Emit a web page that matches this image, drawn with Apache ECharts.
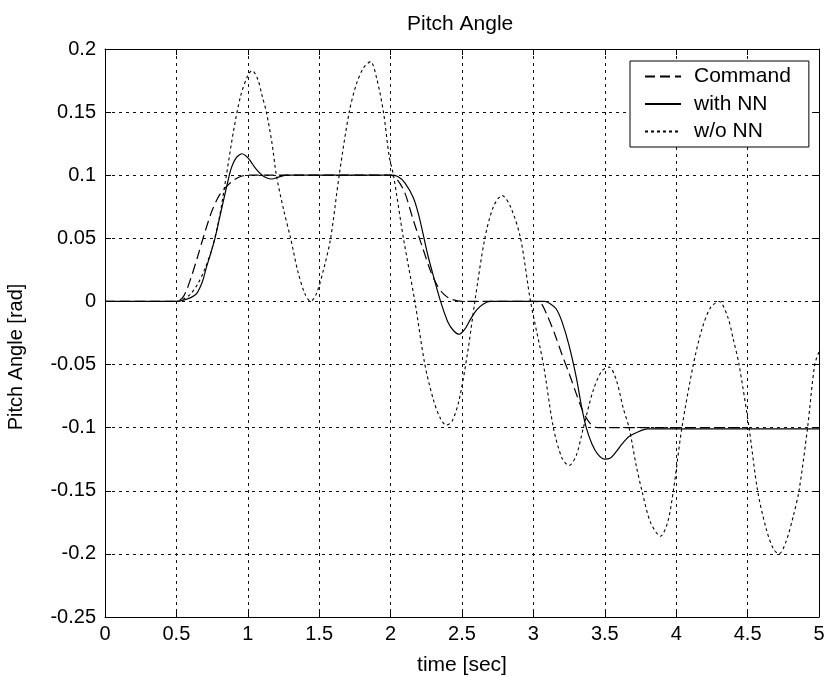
<!DOCTYPE html>
<html>
<head>
<meta charset="utf-8">
<script src="https://cdn.jsdelivr.net/npm/echarts@6/dist/echarts.min.js"></script>
<style>html,body{margin:0;padding:0;background:#fff;}#c{width:830px;height:677px;}</style>
</head>
<body>
<div id="c"></div>
<script>
// ---- data ----
const xTickLabels = ['0','0.5','1','1.5','2','2.5','3','3.5','4','4.5','5'];
const yTickLabels = ['-0.25','-0.2','-0.15','-0.1','-0.05','0','0.05','0.1','0.15','0.2'];

const cmdT = [0,0.5,0.55,0.6,0.65,0.7,0.75,0.8,0.85,0.9,0.95,1.0,2.0,2.05,2.1,2.16,2.22,2.28,2.33,2.37,2.42,2.5,3.0,3.05,3.1,3.15,3.2,3.25,3.3,3.35,3.4,3.45,4.5];
const cmdY = [0,0,0.004,0.018,0.036,0.055,0.072,0.084,0.091,0.096,0.099,0.1,0.1,0.096,0.086,0.064,0.044,0.024,0.012,0.006,0.002,0,0,-0.001,-0.012,-0.026,-0.042,-0.057,-0.073,-0.088,-0.097,-0.1,-0.1];

const nnT = [0,0.5,0.55,0.6,0.64,0.68,0.71,0.74,0.77,0.8,0.83,0.86,0.88,0.9,0.92,0.94,0.96,0.99,1.02,1.05,1.09,1.13,1.17,1.2,1.27,2.0,2.05,2.1,2.16,2.2,2.26,2.3,2.35,2.4,2.44,2.48,2.52,2.56,2.6,2.65,2.7,3.08,3.12,3.16,3.2,3.25,3.3,3.34,3.37,3.41,3.45,3.5,3.54,3.58,3.62,3.67,3.72,3.8,5.0];
const nnY = [0,0,0.001,0.003,0.006,0.015,0.027,0.038,0.05,0.065,0.08,0.095,0.104,0.11,0.114,0.116,0.117,0.115,0.111,0.106,0.101,0.098,0.097,0.098,0.1,0.1,0.099,0.094,0.082,0.067,0.037,0.02,0,-0.016,-0.023,-0.026,-0.022,-0.014,-0.007,-0.002,0,0,-0.002,-0.006,-0.016,-0.035,-0.06,-0.085,-0.1,-0.113,-0.121,-0.125,-0.124,-0.119,-0.113,-0.107,-0.104,-0.101,-0.101];

const woT = [0,0.5,0.55,0.6,0.65,0.7,0.75,0.8,0.85,0.9,0.95,1.0,1.03,1.07,1.1,1.13,1.17,1.2,1.25,1.3,1.35,1.4,1.44,1.48,1.53,1.58,1.64,1.71,1.76,1.81,1.86,1.9,1.95,1.99,2.02,2.09,2.17,2.24,2.3,2.35,2.39,2.43,2.48,2.54,2.59,2.66,2.72,2.78,2.84,2.91,2.98,3.07,3.14,3.2,3.25,3.3,3.35,3.42,3.48,3.53,3.58,3.63,3.67,3.72,3.76,3.82,3.89,3.94,3.98,4.04,4.12,4.18,4.24,4.3,4.36,4.4,4.44,4.51,4.57,4.63,4.68,4.72,4.77,4.82,4.86,4.92,4.97,5.0];
const woY = [0,0,0.002,0.006,0.014,0.026,0.042,0.066,0.1,0.135,0.163,0.179,0.183,0.176,0.163,0.15,0.125,0.1,0.073,0.05,0.024,0.006,0,0.006,0.025,0.05,0.1,0.15,0.172,0.185,0.19,0.178,0.15,0.115,0.1,0.05,0,-0.05,-0.078,-0.093,-0.098,-0.095,-0.078,-0.04,0,0.05,0.075,0.084,0.075,0.05,0,-0.05,-0.1,-0.124,-0.13,-0.122,-0.1,-0.07,-0.055,-0.052,-0.062,-0.085,-0.1,-0.13,-0.15,-0.175,-0.186,-0.175,-0.15,-0.1,-0.05,-0.022,-0.005,0,-0.012,-0.03,-0.05,-0.1,-0.15,-0.18,-0.196,-0.2,-0.19,-0.17,-0.15,-0.1,-0.05,-0.04];

const zip = (t, y) => t.map((v, i) => [v, y[i]]);
const FONT = '"Liberation Sans", Arial, sans-serif';

const chart = echarts.init(document.getElementById('c'), null, {renderer: 'canvas'});
const axisLine = {show: true, onZero: false, lineStyle: {color: '#000', width: 1}};
const axisTick = {show: true, inside: true, length: 6, lineStyle: {color: '#000'}};
const gridLine = {show: true, lineStyle: {color: '#111', width: 1, type: [3, 4]}};

chart.setOption({
  animation: false,
  backgroundColor: '#fff',
  textStyle: {fontFamily: FONT},
  title: {text: 'Pitch Angle', left: 402, top: 9,
    textStyle: {fontFamily: FONT, fontSize: 21, fontWeight: 'normal', color: '#000'}},
  grid: {left: 105, right: 11, top: 49, bottom: 60, containLabel: false, outerBoundsMode: 'none'},
  legend: {
    orient: 'vertical', left: 630, top: 61,
    padding: [5, 18, 5, 14], itemGap: 6.5, itemWidth: 36, itemHeight: 20,
    backgroundColor: '#fff', borderColor: '#000', borderWidth: 1,
    itemStyle: {opacity: 0, borderWidth: 0},
    textStyle: {fontFamily: FONT, fontSize: 21, color: '#000', padding: [0, 0, 0, 8]},
    data: ['Command', 'with NN', 'w/o NN']
  },
  graphic: [{
    type: 'text', x: 16, y: 357, rotation: Math.PI / 2,
    style: {text: 'Pitch Angle [rad]', fontFamily: FONT, fontSize: 20, fill: '#000',
      textAlign: 'center', textVerticalAlign: 'middle'}
  }],
  xAxis: [{
    type: 'value', min: 0, max: 5, interval: 0.5, position: 'bottom',
    name: 'time [sec]', nameLocation: 'middle', nameGap: 38,
    nameTextStyle: {fontFamily: FONT, fontSize: 21, color: '#000'},
    axisLine, axisTick,
    axisLabel: {fontFamily: FONT, fontSize: 20, color: '#000', margin: 7,
      formatter: v => xTickLabels[Math.round(v / 0.5)]},
    splitLine: gridLine
  }, {
    type: 'value', min: 0, max: 5, interval: 0.5, position: 'top',
    axisLine, axisTick, axisLabel: {show: false}, splitLine: {show: false}
  }],
  yAxis: [{
    type: 'value', min: -0.25, max: 0.2, interval: 0.05, position: 'left',
    axisLine, axisTick,
    axisLabel: {fontFamily: FONT, fontSize: 20, color: '#000', margin: 9,
      formatter: v => yTickLabels[Math.round((v + 0.25) / 0.05)]},
    splitLine: gridLine
  }, {
    type: 'value', min: -0.25, max: 0.2, interval: 0.05, position: 'right',
    axisLine, axisTick, axisLabel: {show: false}, splitLine: {show: false}
  }],
  series: [{
    name: 'Command', type: 'line', symbol: 'none', smooth: 0.3,
    lineStyle: {color: '#000', width: 1.2, type: [10, 5]},
    itemStyle: {color: '#000'},
    data: zip(cmdT, cmdY)
  }, {
    name: 'with NN', type: 'line', symbol: 'none', smooth: 0.3,
    lineStyle: {color: '#000', width: 1.2, type: 'solid'},
    itemStyle: {color: '#000'},
    data: zip(nnT, nnY)
  }, {
    name: 'w/o NN', type: 'line', symbol: 'none', smooth: 0.3,
    lineStyle: {color: '#000', width: 1.1, type: [3, 3]},
    itemStyle: {color: '#000'},
    data: zip(woT, woY)
  }]
});
</script>
</body>
</html>
